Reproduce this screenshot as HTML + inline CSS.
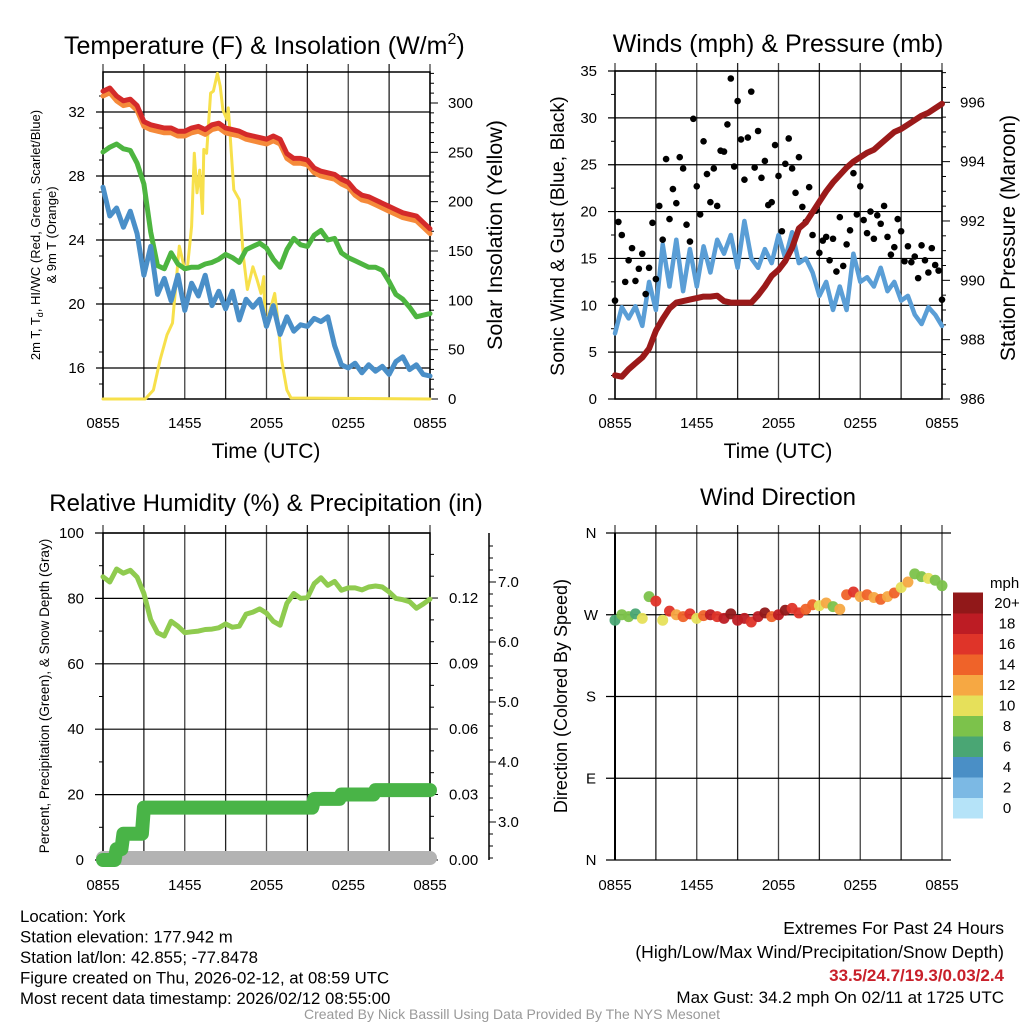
<!DOCTYPE html>
<html><head><meta charset="utf-8"><style>
html,body{margin:0;padding:0;background:#fff;}
svg{display:block;font-family:"Liberation Sans",sans-serif;}
</style></head><body>
<svg id="chart" width="1024" height="1024" xmlns="http://www.w3.org/2000/svg"></svg>
<script>
// ---------- DATA (half-hourly unless noted, 0855 -> 0855) ----------
const timeTicks = ["0855","1455","2055","0255","0855"];
const tempTicks = [16,20,24,28,32];
const solarTicks = [0,50,100,150,200,250,300];
const windTicks = [0,5,10,15,20,25,30,35];
const presTicks = [986,988,990,992,994,996];
const rhTicks = [0,20,40,60,80,100];
const precipTicks = ["0.00","0.03","0.06","0.09","0.12"];
const snowTicks = ["3.0","4.0","5.0","6.0","7.0"];
const dirTicks = ["N","E","S","W","N"];
const cbarLabels = ["0","2","4","6","8","10","12","14","16","18","20+"];

const tempRed = [33.3,33.5,33.0,32.7,32.8,32.4,31.4,31.2,31.1,31.0,31.0,30.8,30.8,31.0,31.1,30.9,31.2,31.3,31.0,30.9,30.8,30.6,30.5,30.4,30.3,30.5,30.3,29.4,29.1,29.1,29.0,28.5,28.3,28.2,28.1,27.8,27.6,27.1,26.8,26.7,26.5,26.3,26.1,25.9,25.7,25.6,25.5,25.1,24.7];
const tempOrange = [33.0,33.2,32.7,32.4,32.5,32.1,31.1,30.9,30.8,30.7,30.7,30.5,30.5,30.7,30.8,30.6,30.9,31.0,30.7,30.6,30.5,30.3,30.2,30.1,30.0,30.2,30.0,29.1,28.8,28.8,28.7,28.2,28.0,27.9,27.8,27.5,27.3,26.8,26.5,26.4,26.2,26.0,25.8,25.6,25.4,25.3,25.2,24.8,24.4];
const tempGreen = [29.5,29.8,30.0,29.7,29.6,28.8,27.5,24.5,22.4,22.2,23.2,22.5,22.2,22.3,22.3,22.5,22.6,22.8,23.1,22.9,22.6,23.4,23.6,23.8,23.5,22.8,22.3,23.4,24.1,23.7,23.6,24.3,24.6,24.0,24.1,23.2,22.9,22.7,22.5,22.3,22.3,22.1,21.4,20.6,20.3,19.8,19.2,19.3,19.4];
const tempBlue = [27.3,25.5,26.0,24.8,25.8,24.4,21.8,23.6,20.6,21.6,20.2,21.8,19.6,21.3,20.5,21.8,19.9,20.8,19.7,20.8,19.0,20.3,19.8,20.3,18.6,19.9,18.1,19.2,18.3,18.7,18.6,19.1,18.9,19.2,17.4,16.2,16.0,16.3,15.7,16.2,15.8,16.1,15.6,16.4,16.7,15.9,16.2,15.6,15.5];
const solarHours = [0,3.1,3.7,4.2,4.7,5.1,5.4,5.6,6.0,6.2,6.5,6.7,6.9,7.1,7.3,7.4,7.6,7.9,8.1,8.4,8.6,8.8,9.1,9.2,9.6,10.0,10.3,10.6,11.0,11.3,11.6,11.8,11.9,12.2,12.6,12.8,13.1,13.5,13.8,24];
const solarVals = [0,0,9,40,65,77,124,155,131,134,175,249,209,232,188,253,249,310,312,330,317,293,283,295,212,202,145,111,134,121,107,124,74,87,107,84,40,9,1,0];
const windSonic = [7.0,9.8,8.6,9.9,7.8,12.5,9.5,16.5,12.0,17.0,11.5,16.0,12.0,16.3,13.5,17.0,15.5,17.5,14.0,19.0,15.0,14.0,16.0,14.5,17.5,15.0,17.8,14.5,15.0,13.5,11.0,12.5,9.5,12.0,9.5,15.5,12.5,13.0,12.0,14.0,11.5,12.5,10.5,11.0,9.0,8.0,9.8,9.0,7.8];
const pressure = [986.8,986.75,987.0,987.2,987.4,987.7,988.3,988.7,989.05,989.25,989.3,989.35,989.4,989.45,989.45,989.48,989.3,989.25,989.25,989.25,989.25,989.5,989.8,990.15,990.35,990.65,991.1,991.75,991.95,992.3,992.65,993.0,993.3,993.55,993.8,994.0,994.15,994.3,994.4,994.6,994.8,995.0,995.1,995.25,995.4,995.55,995.65,995.8,995.95];
// gusts every 15 min
const gusts = [10.5,18.9,17.5,12.5,14.8,16.1,12.6,13.9,15.5,11.2,14.0,18.8,12.8,20.6,17.0,25.6,19.2,22.4,20.9,25.8,24.6,18.6,16.8,29.9,22.7,19.7,27.5,24.0,21.0,24.6,20.6,26.5,26.4,29.3,34.2,24.8,31.8,27.7,23.4,27.9,32.8,24.7,28.6,23.6,25.4,20.7,21.0,27.1,23.8,17.9,25.1,27.8,24.6,22.0,25.8,20.5,18.9,22.6,17.5,20.1,15.6,16.9,17.3,14.8,17.1,13.6,19.4,14.2,16.5,18.0,24.1,19.7,22.7,19.1,17.7,20.0,17.1,19.6,18.7,20.6,17.3,15.4,16.2,19.2,17.9,14.7,16.3,14.6,15.2,12.9,16.4,14.8,13.5,16.1,14.3,13.7,10.6];
const rh = [86.6,85.0,89.0,87.7,88.6,86.5,81.5,73.5,69.5,68.5,73.0,71.5,69.5,69.8,70.0,70.5,70.6,71.0,72.2,71.2,71.5,75.2,75.8,76.8,75.5,73.0,71.8,78.5,81.5,80.0,80.2,84.5,86.3,84.0,85.2,82.5,83.2,83.2,82.6,83.5,83.8,83.5,82.0,80.0,79.6,79.0,77.0,78.3,79.8];
const precip = [0,0,0.005,0.012,0.012,0.012,0.024,0.024,0.024,0.024,0.024,0.024,0.024,0.024,0.024,0.024,0.024,0.024,0.024,0.024,0.024,0.024,0.024,0.024,0.024,0.024,0.024,0.024,0.024,0.024,0.024,0.028,0.028,0.028,0.028,0.030,0.030,0.030,0.030,0.030,0.032,0.032,0.032,0.032,0.032,0.032,0.032,0.032,0.032];
const snowDepth = [2.4,2.4,2.4,2.4,2.4,2.4,2.4,2.4,2.4,2.4,2.4,2.4,2.4,2.4,2.4,2.4,2.4,2.4,2.4,2.4,2.4,2.4,2.4,2.4,2.4];
const windDir = [264,270,268,271,266,290,285,264,274,270,268,271,266,269,270,268,266,271,264,266,262,268,272,268,270,275,277,272,276,281,280,283,279,276,292,295,290,292,289,287,290,294,300,306,315,312,310,308,302];
const dirSpeed = [7,9,8,7,10,8,16,11,17,13,15,17,11,14,18,16,19,20,18,19,17,19,20,15,18,20,17,16,15,14,10,12,9,12,15,17,13,15,12,14,13,15,11,12,8,9,10,8,8];
const cbarColors = ["#b5e3f8","#7cb9e4","#4a8fc6","#4aa674","#7cc24b","#e6e05a","#f6a843","#ef6329","#df3429","#bd1c24","#911819"];

// ---------- helpers ----------
const NS="http://www.w3.org/2000/svg";
const svg=document.getElementById('chart');
function el(tag,attrs,parent){const e=document.createElementNS(NS,tag);for(const k in attrs)e.setAttribute(k,attrs[k]);(parent||svg).appendChild(e);return e;}
function txt(s,x,y,size,anchor,parent,extra){const t=el('text',Object.assign({x:x,y:y,'font-size':size,'text-anchor':anchor||'start',fill:'#000'},extra||{}),parent);t.textContent=s;return t;}
function hx(x0,x1,h){return x0+(x1-x0)*h/24;}
function idxH(i,n){return i*24/(n-1);}
function poly(pts,stroke,w,parent,name){const p=el('polyline',{points:pts.map(q=>q[0].toFixed(1)+','+q[1].toFixed(1)).join(' '),fill:'none',stroke:stroke,'stroke-width':w,'stroke-linejoin':'round','stroke-linecap':'round'},parent);


return p;}
function frame(x0,x1,yT,yB,parent){el('rect',{x:x0,y:yT,width:x1-x0,height:yB-yT,fill:'none',stroke:'#000','stroke-width':1.5},parent);}
function vgrid(x0,x1,yT,yB,parent){for(let k=0;k<=8;k++){const x=x0+(x1-x0)*k/8;el('line',{x1:x,y1:yT-8,x2:x,y2:yB,stroke:(k%2?'#222':'#444'),'stroke-width':1.3},parent);}}
function xlabels(x0,x1,y,parent){timeTicks.forEach((s,i)=>{const t=txt(s,x0+(x1-x0)*i/4,y,15,'middle',parent);

});}
function rotText(s,x,y,size,parent,name){const t=txt(s,x,y,size,'middle',parent,{transform:'rotate(-90 '+x+' '+y+')'});


return t;}

// ================= Panel 1: Temperature =================
(function(){
const g=el('g',{});  
const x0=103,x1=430,yT=72,yB=399;
const yT_=v=>368-(v-16)*16, yS=v=>399-v*0.9867;
vgrid(x0,x1,yT,yB,g);
tempTicks.forEach(v=>{el('line',{x1:x0-7,y1:yT_(v),x2:x1,y2:yT_(v),stroke:'#000','stroke-width':1.2},g);txt(String(v),85,yT_(v)+5,15,'end',g);});
for(let v=15;v<=34;v+=2){el('line',{x1:x0-4,y1:yT_(v),x2:x0,y2:yT_(v),stroke:'#000'},g);}
for(let v=0;v<=330;v+=10){const L=(v%50===0)?8:4;el('line',{x1:x1,y1:yS(v),x2:x1+L,y2:yS(v),stroke:'#000'},g);}
solarTicks.forEach(v=>{txt(String(v),448,yS(v)+5,15,'start',g);});
frame(x0,x1,yT,yB,g);
poly(solarHours.map((h,i)=>[hx(x0,x1,h),yS(solarVals[i])]),'#f7e04b',3,g,'solar-insolation-line');
poly(tempOrange.map((v,i)=>[hx(x0,x1,idxH(i,tempOrange.length)),yT_(v)]),'#f58a3a',5,g,'9m-temp-line');
poly(tempRed.map((v,i)=>[hx(x0,x1,idxH(i,tempRed.length)),yT_(v)]),'#d42a2a',5,g,'2m-temp-line');
poly(tempGreen.map((v,i)=>[hx(x0,x1,idxH(i,tempGreen.length)),yT_(v)]),'#4db540',5,g,'dewpoint-line');
poly(tempBlue.map((v,i)=>[hx(x0,x1,idxH(i,tempBlue.length)),yT_(v)]),'#4a8fc8',5,g,'windchill-line');
xlabels(x0,x1,428,g);
const t=txt('Temperature (F) & Insolation (W/m',64,54,25,'start',g); const ts=el('tspan',{dy:-10,'font-size':16},t); ts.textContent='2'; const ts2=el('tspan',{dy:10},t); ts2.textContent=')';
 
const xt=txt('Time (UTC)',266,458,21,'middle',g);  
const a=txt('',40,235,13,'middle',g,{transform:'rotate(-90 40 235)'}); a.textContent='2m T, T'; const sub=el('tspan',{'font-size':9,dy:3},a); sub.textContent='d'; const rest=el('tspan',{dy:-3},a); rest.textContent=', HI/WC (Red, Green, Scarlet/Blue)';
 
rotText('& 9m T (Orange)',56,235,13,g,'temperature-y-axis-title-line2');
rotText('Solar Insolation (Yellow)',502,235,21.5,g,'solar-y-axis-title');
})();

// ================= Panel 2: Winds & Pressure =================
(function(){
const g=el('g',{});  
const x0=615,x1=942,yT=71,yB=399;
const yW=v=>399-v*9.371, yP=p=>399-(p-986)*29.67;
vgrid(x0,x1,yT,yB,g);
windTicks.forEach(v=>{el('line',{x1:x0-7,y1:yW(v),x2:x1,y2:yW(v),stroke:'#000','stroke-width':1.2},g);txt(String(v),597,yW(v)+5,15,'end',g);});
for(let v=2.5;v<35;v+=5){el('line',{x1:x0-4,y1:yW(v),x2:x0,y2:yW(v),stroke:'#000'},g);}
for(let p=986;p<=997;p+=0.5){const L=(p%2===0)?8:4;el('line',{x1:x1,y1:yP(p),x2:x1+L,y2:yP(p),stroke:'#000'},g);}
presTicks.forEach(p=>{txt(String(p),960,yP(p)+5,15,'start',g);});
frame(x0,x1,yT,yB,g);
poly(windSonic.map((v,i)=>[hx(x0,x1,idxH(i,windSonic.length)),yW(v)]),'#5a9ed6',4.5,g,'sonic-wind-line');
gusts.forEach((v,i)=>{const c=el('circle',{cx:hx(x0,x1,idxH(i,gusts.length)),cy:yW(v),r:3.3,fill:'#000'},g);

});
poly(pressure.map((v,i)=>[hx(x0,x1,idxH(i,pressure.length)),yP(v)]),'#9b1a1a',6,g,'pressure-line');
xlabels(x0,x1,428,g);
const t=txt('Winds (mph) & Pressure (mb)',778,52,25,'middle',g);  
const xt=txt('Time (UTC)',778,458,21,'middle',g);  
rotText('Sonic Wind & Gust (Blue, Black)',564,236,19.5,g,'wind-y-axis-title');
rotText('Station Pressure (Maroon)',1015,238,21,g,'pressure-y-axis-title');
})();

// ================= Panel 3: RH & Precip =================
(function(){
const g=el('g',{});  
const x0=103,x1=430,yT=533,yB=860;
const yR=v=>860-v*3.27, yPr=p=>860-p*2183, ySn=s=>822-(s-3)*60;
vgrid(x0,x1,yT,yB,g);
rhTicks.forEach(v=>{el('line',{x1:x0-8,y1:yR(v),x2:x1,y2:yR(v),stroke:'#000','stroke-width':1.2},g);txt(String(v),84,yR(v)+5,15,'end',g);});
for(let v=10;v<100;v+=20){el('line',{x1:x0-4,y1:yR(v),x2:x0,y2:yR(v),stroke:'#000'},g);}
for(let k=0;k<=15;k++){const p=k*0.01;const y=yPr(p);if(y<yT)break;const L=(k%3===0)?8:4;el('line',{x1:x1,y1:y,x2:x1+L,y2:y,stroke:'#000'},g);}
precipTicks.forEach(s=>{txt(s,449,yPr(parseFloat(s))+5,15,'start',g);});
el('line',{x1:489,y1:yT,x2:489,y2:yB,stroke:'#000','stroke-width':1.5},g);
for(let s=2.4;s<=7.7;s+=0.2){const y=ySn(s);const maj=Math.abs(s-Math.round(s))<0.01;el('line',{x1:489,y1:y,x2:489+(maj?7:4),y2:y,stroke:'#000'},g);}
snowTicks.forEach(s=>{txt(s,498,ySn(parseFloat(s))+5,15,'start',g);});
frame(x0,x1,yT,yB,g);
poly(snowDepth.map((v,i)=>[hx(x0,x1,idxH(i,snowDepth.length)),Math.min(yB,ySn(v))]),'#b3b3b3',14,g,'snow-depth-line');
const pts=[];precip.forEach((v,i)=>{const x=hx(x0,x1,idxH(i,precip.length));if(i>0){pts.push([x-2,yPr(precip[i-1])]);}pts.push([x,yPr(v)]);});
poly(pts,'#49b447',14,g,'precipitation-line');
poly(rh.map((v,i)=>[hx(x0,x1,idxH(i,rh.length)),yR(v)]),'#8fcb4f',5,g,'relative-humidity-line');
xlabels(x0,x1,890,g);
const t=txt('Relative Humidity (%) & Precipitation (in)',266,511,24,'middle',g);  
rotText('Percent, Precipitation (Green), & Snow Depth (Gray)',49,696,13.5,g,'humidity-y-axis-title');
})();

// ================= Panel 4: Wind Direction =================
(function(){
const g=el('g',{});  
const x0=615,x1=942,yT=533,yB=860;
const yD=d=>860-d/360*327;
vgrid(x0,x1,yT,yB,g);
dirTicks.forEach((s,i)=>{const y=yD(i*90);el('line',{x1:x0-9,y1:y,x2:x1+9,y2:y,stroke:'#000','stroke-width':1.2},g);txt(s,591,y+5,15,'middle',g);});
el('line',{x1:x0,y1:yT,x2:x0,y2:yB,stroke:'#000','stroke-width':2},g);
windDir.forEach((d,i)=>{const b=Math.min(10,Math.max(0,Math.floor(dirSpeed[i]/2)));const c=el('circle',{cx:hx(x0,x1,idxH(i,windDir.length)),cy:yD(d),r:5.5,fill:cbarColors[b],'fill-opacity':0.95},g);

});
xlabels(x0,x1,890,g);
const t=txt('Wind Direction',778,505,24,'middle',g);  
rotText('Direction (Colored By Speed)',567,696,18,g,'direction-y-axis-title');
const cb=el('g',{},g);  
txt('mph',990,588,15,'start',cb);
const bh=20.5;
cbarColors.forEach((c,i)=>{const y=818-(i+1)*bh;el('rect',{x:953,y:y,width:30,height:bh+0.5,fill:c},cb);txt(cbarLabels[i],1007,y+bh/2+5,15,'middle',cb);});
})();

// ================= Footer =================
(function(){
const g=el('g',{});  
["Location: York","Station elevation: 177.942 m","Station lat/lon: 42.855; -77.8478","Figure created on Thu, 2026-02-12, at 08:59 UTC","Most recent data timestamp: 2026/02/12 08:55:00"].forEach((s,i)=>{txt(s,20,922+i*20.5,16.8,'start',g);});
txt('Extremes For Past 24 Hours',1004,934,17.5,'end',g);
txt('(High/Low/Max Wind/Precipitation/Snow Depth)',1004,958,17.5,'end',g);
txt('33.5/24.7/19.3/0.03/2.4',1004,981,17,'end',g,{fill:'#c8202a','font-weight':'bold'});
txt('Max Gust: 34.2 mph On 02/11 at 1725 UTC',1004,1003,17,'end',g);
txt('Created By Nick Bassill Using Data Provided By The NYS Mesonet',512,1019,14,'middle',g,{fill:'#999'});
})();
</script>
</body></html>
